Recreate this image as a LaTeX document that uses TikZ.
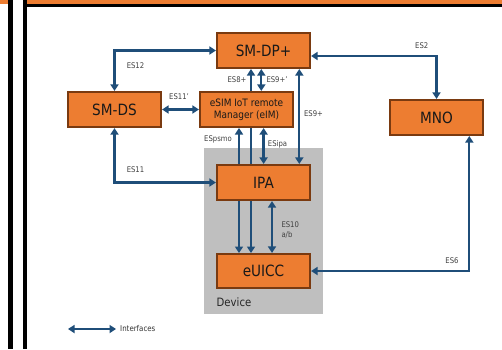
\documentclass[tikz,border=0pt]{standalone}
\usepackage{fontspec}
\setmainfont{DejaVu Sans}[FakeStretch=0.88]
\usetikzlibrary{arrows.meta}

\definecolor{boxfill}{HTML}{ED7D31}
\definecolor{boxline}{HTML}{7A3A10}
\definecolor{ifblue}{HTML}{1F4E79}
\definecolor{devgray}{HTML}{BFBFBF}
\definecolor{lbl}{HTML}{404040}

\tikzset{
  entity/.style={draw=boxline, fill=boxfill, line width=1.6pt,
    minimum width=93.5pt, minimum height=35.5pt, inner sep=1pt,
    font=\fontsize{15.5}{17}\selectfont, text=black!90},
  iface/.style={draw=ifblue, line width=2.3pt,
    {Triangle[width=8pt,length=6.5pt]}-{Triangle[width=8pt,length=6.5pt]}},
  iflab/.style={font=\fontsize{7.8}{9}\selectfont, text=lbl, inner sep=0pt},
}

\begin{document}
\begin{tikzpicture}[x=1pt,y=-1pt]
  \useasboundingbox (0,0) rectangle (502,349);

  % page frame
  \fill[boxfill] (26.7,0) rectangle (502,4);
  \fill[boxfill] (0,0) rectangle (8.3,4);
  \fill[black] (26.7,4) rectangle (502,7);
  \fill[black] (8.3,0) rectangle (12.7,349);
  \fill[black] (22.7,0) rectangle (26.7,349);

  % device area
  \fill[devgray] (204.3,147.7) rectangle (322.7,314);
  \node[anchor=west, font=\fontsize{11.5}{13}\selectfont, text=black!85, inner sep=0pt]
    (devlab) at (216.5,302.5) {Device};

  % columns of the vertical interfaces
  \coordinate (cpsmo) at (239,0);
  \coordinate (ceight) at (251,0);
  \coordinate (cninep) at (261.3,0);
  \coordinate (cipa) at (263.6,0);
  \coordinate (cten) at (272,0);
  \coordinate (cnine) at (299.3,0);
  \coordinate (csix) at (469.3,0);
  \coordinate (rtwo) at (0,56);

  % entity positions
  \path
    (263.5,50.5) coordinate (psmdp)
    (114.5,109.5) coordinate (psmds)
    (246.5,109.5) coordinate (peim)
    (263.5,182.5) coordinate (pipa)
    (263.5,271) coordinate (peuicc)
    (436.5,117.5) coordinate (pmno);

  % interfaces running behind boxes
  \path (psmdp) +(0,18.5) coordinate (smdpS);
  \path (peim) +(0,18.5) coordinate (eimS);
  \path (peuicc) +(0,-18) coordinate (euiccN);
  \draw[iface] (euiccN -| ceight) -- (smdpS -| ceight);
  \draw[iface] (euiccN -| cpsmo) -- (eimS -| cpsmo);

  \node[entity] (smdp) at (psmdp) {SM-DP+};
  \node[entity] (smds) at (psmds) {SM-DS};
  \node[entity, font=\fontsize{10.2}{12.3}\selectfont, align=center] (eim) at (peim)
    {eSIM IoT remote\\Manager (eIM)};
  \node[entity] (ipa) at (pipa) {IPA};
  \node[entity, minimum height=34.5pt] (euicc) at (peuicc) {eUICC};
  \node[entity] (mno) at (pmno) {MNO};

  % interfaces
  \draw[iface] (smds.north) |- (smdp.west);
  \draw[iface] (smds.east) -- (eim.west);
  \draw[iface] (eim.north -| cninep) -- (smdp.south -| cninep);
  \draw[iface] (ipa.north -| cnine) -- (smdp.south -| cnine);
  \draw[iface] (ipa.north -| cipa) -- (eim.south -| cipa);
  \draw[iface] (euicc.north -| cten) -- (ipa.south -| cten);
  \draw[iface] (smds.south) |- (ipa.west);
  \draw[iface] (smdp.east |- rtwo) -| (mno.north);
  \draw[iface] (euicc.east) -| (mno.south -| csix);

  % interface labels
  \node[iflab] (l12) at (135.5,65.5) {ES12};
  \node[iflab] (l11p) at (179,97) {ES11\textquoteright};
  \node[iflab] (l8) at (237,80) {ES8+};
  \node[iflab] (l9p) at (277,80) {ES9+\textquoteright};
  \node[iflab] (l9) at (313.5,114) {ES9+};
  \node[iflab] (lpsmo) at (218,139) {ESpsmo};
  \node[iflab] (lipa) at (277.5,144) {ESipa};
  \node[iflab] (l11) at (135.5,170) {ES11};
  \node[iflab, anchor=west] (l10) at (281.3,224.5) {ES10};
  \node[iflab, anchor=west] (l10b) at (281.3,234.5) {a/b};
  \node[iflab] (l2) at (421.7,45.7) {ES2};
  \node[iflab] (l6) at (452,260.7) {ES6};

  % legend
  \node[iflab, anchor=west, font=\fontsize{8}{9}\selectfont, text=black!80] (leg) at (120,329) {Interfaces};
  \coordinate (legA) at (68,329);
  \draw[iface] (legA) -- ([xshift=-4pt]leg.west);
\end{tikzpicture}
\end{document}
